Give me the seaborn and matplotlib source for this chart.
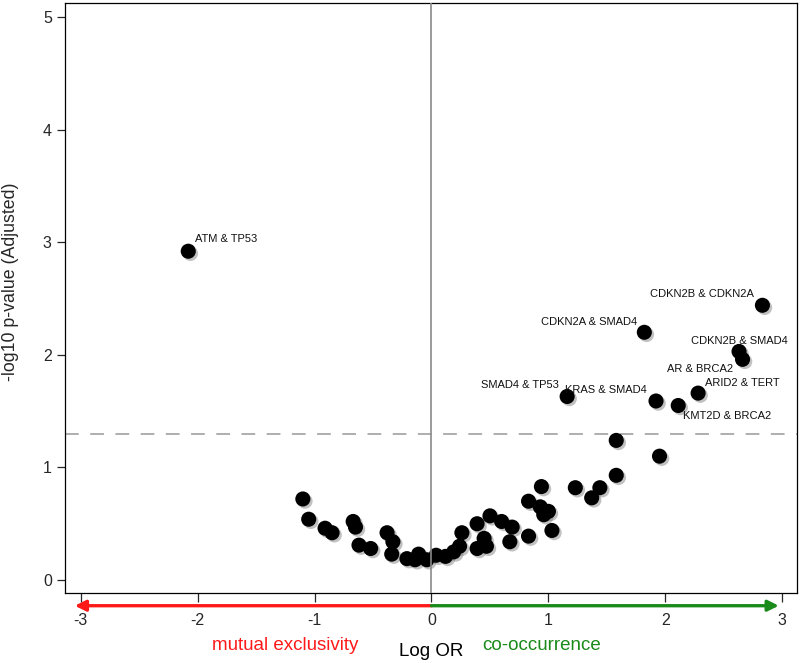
import pandas as pd
import matplotlib
matplotlib.use("Agg")
import matplotlib.pyplot as plt
import matplotlib.patheffects as pe
import seaborn as sns

# pares de genes rotulados
pares = ["ATM & TP53", "CDKN2B & CDKN2A", "CDKN2A & SMAD4", "CDKN2B & SMAD4",
         "AR & BRCA2", "ARID2 & TERT", "KMT2D & BRCA2", "KRAS & SMAD4",
         "SMAD4 & TP53"]
pares_log_or = [-2.08, 2.83, 1.82, 2.63, 2.66, 2.28, 2.11, 1.92, 1.16]
pares_p = [2.92, 2.44, 2.20, 2.03, 1.96, 1.66, 1.55, 1.59, 1.63]

# pares não significativos
outros_log_or = [1.58, 1.95, 1.58, 1.23, 1.44, 1.37, -1.10, -1.05, -0.91, -0.85,
                 -0.67, -0.65, -0.62, -0.52, -0.38, -0.33, -0.34, -0.21, -0.14,
                 -0.11, -0.04, 0.04, 0.12, 0.19, 0.26, 0.24, 0.39, 0.39, 0.45,
                 0.47, 0.50, 0.60, 0.69, 0.67, 0.83, 0.94, 0.93, 1.00, 0.96,
                 0.83, 1.03]
outros_p = [1.24, 1.10, 0.93, 0.82, 0.82, 0.73, 0.72, 0.54, 0.46, 0.42,
            0.52, 0.47, 0.31, 0.28, 0.42, 0.34, 0.23, 0.19, 0.18,
            0.23, 0.18, 0.22, 0.21, 0.25, 0.42, 0.30, 0.50, 0.28, 0.37,
            0.30, 0.57, 0.52, 0.47, 0.34, 0.70, 0.83, 0.65, 0.61, 0.58,
            0.39, 0.44]

x_ticks = [-3, -2, -1, 0, 1, 2, 3]
y_ticks = [0, 1, 2, 3, 4, 5]
limiar = 1.301  # -log10(0.05)

# deslocamento dos rótulos (pixels) e alinhamento
rotulos_pos = {
    "ATM & TP53": (7, 12, "left"),
    "CDKN2B & CDKN2A": (-9, 11, "right"),
    "CDKN2A & SMAD4": (-7, 10, "right"),
    "CDKN2B & SMAD4": (0, 10, "center"),
    "AR & BRCA2": (-9, -10, "right"),
    "ARID2 & TERT": (7, 10, "left"),
    "KMT2D & BRCA2": (5, -11, "left"),
    "KRAS & SMAD4": (-9, 11, "right"),
    "SMAD4 & TP53": (-8, 11, "right"),
}

df = pd.DataFrame({
    "log_or": pares_log_or + outros_log_or,
    "p": pares_p + outros_p,
})

sns.set_style("white")
plt.rcParams["font.family"] = ["Liberation Sans", "DejaVu Sans"]

fig = plt.figure(figsize=(8, 6.63), dpi=100)
ax = fig.add_axes([0.08125, 0.1051, 0.9146, 0.8903])

sombra = [pe.SimplePatchShadow(offset=(1.6, -1.6), shadow_rgbFace="#777777", alpha=0.45),
          pe.Normal()]
sns.scatterplot(data=df, x="log_or", y="p", color="black", s=118,
                edgecolor="none", ax=ax, zorder=2)
for col in ax.collections:
    col.set_path_effects(sombra)

ax.axvline(0, color="#8a8a8a", lw=1.2, zorder=3)
ax.axhline(limiar, color="#999999", lw=1.1, ls=(0, (9, 7.5)), zorder=1)

for nome, xv, yv in zip(pares, pares_log_or, pares_p):
    dx, dy, ha = rotulos_pos[nome]
    ax.annotate(nome, (xv, yv), xytext=(dx, dy), textcoords="offset pixels",
                ha=ha, va="center", fontsize=8, color="#111111")

ax.set_xlim(-3.134, 3.123)
ax.set_ylim(-0.118, 5.124)
ax.set_xticks(x_ticks)
ax.set_yticks(y_ticks)
ax.set_xticklabels([str(v) for v in x_ticks])
ax.tick_params(axis="x", direction="out", length=6.5, width=0.9, pad=8,
               labelsize=11.5, bottom=True)
ax.tick_params(axis="y", direction="out", length=5.5, width=0.9, pad=4,
               labelsize=11.5, left=True)
for s in ax.spines.values():
    s.set_color("black")
    s.set_linewidth(0.9)

ax.set_xlabel("")
ax.set_ylabel("-log10 p-value (Adjusted)", fontsize=12.8)
ax.yaxis.set_label_coords(-0.063, 0.527)

# setas de exclusividade / co-ocorrência
trans = ax.get_xaxis_transform()
ax.annotate("", xy=(-3.05, -0.021), xytext=(0, -0.021), xycoords=trans,
            textcoords=trans, annotation_clip=False,
            arrowprops=dict(arrowstyle="-|>", color="#ff1a1a", lw=2.4,
                            mutation_scale=16, shrinkA=0, shrinkB=0))
ax.annotate("", xy=(2.97, -0.021), xytext=(0, -0.021), xycoords=trans,
            textcoords=trans, annotation_clip=False,
            arrowprops=dict(arrowstyle="-|>", color="#1a8a1a", lw=2.4,
                            mutation_scale=16, shrinkA=0, shrinkB=0))

fig.text(285 / 800, 1 - 645 / 663, "mutual exclusivity", color="#ff1a1a",
         fontsize=13.5, ha="center", va="center")
fig.text(431.5 / 800, 1 - 652 / 663, "Log OR", color="black",
         fontsize=13.5, ha="center", va="center")
fig.text(542 / 800, 1 - 645 / 663, "co-occurrence", color="#1a8a1a",
         fontsize=13.5, ha="center", va="center")

fig.savefig("out.png", dpi=100)
